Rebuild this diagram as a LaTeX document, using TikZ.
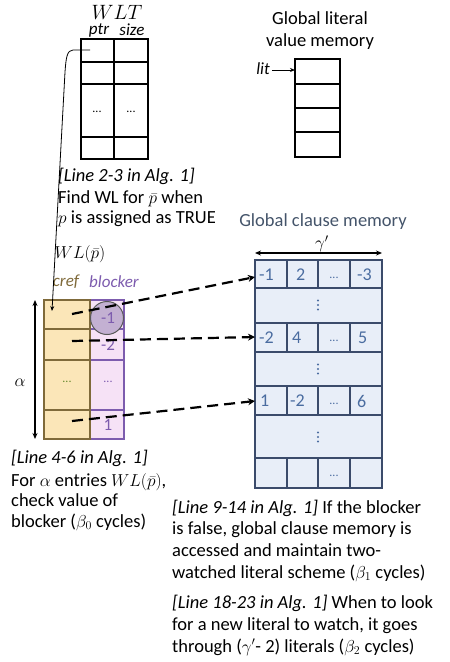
\documentclass[tikz,border=0pt]{standalone}
\usepackage{fontspec}
\setmainfont{Carlito}
\usetikzlibrary{arrows.meta}
\definecolor{crefc}{HTML}{7F6A3A}
\definecolor{creff}{HTML}{FBE6B8}
\definecolor{blkc}{HTML}{7D5CAE}
\definecolor{blkf}{HTML}{F6E2F6}
\definecolor{circf}{HTML}{C3B0D2}
\definecolor{gcmline}{HTML}{3B4B6B}
\definecolor{gcmfill}{HTML}{E8EEF8}
\definecolor{gcmtext}{HTML}{4A6CA0}
\definecolor{gcmlabel}{HTML}{44546A}
\begin{document}
\begin{tikzpicture}[x=1pt,y=-1pt,
  txt/.style={font=\fontsize{18.5}{21}\selectfont, inner sep=0pt, anchor=base west},
  lbl/.style={font=\fontsize{18.5}{21}\selectfont, inner sep=0pt},
  sml/.style={font=\fontsize{17}{20}\selectfont\itshape, inner sep=0pt},
  blk/.style={line width=2pt, draw=black},
  dasharrow/.style={line width=2.2pt, dash pattern=on 11pt off 6pt, -{Stealth[length=7pt,width=7pt]}},
  cellt/.style={font=\fontsize{18}{20}\selectfont, text=gcmtext, inner sep=0pt, anchor=west},
  ell/.style={font=\fontsize{12}{14}\selectfont, inner sep=0pt},
  vdot/.style={fill=gcmtext, circle, inner sep=0pt, minimum size=2.2pt}
]
\useasboundingbox (0,0) rectangle (450,662);

% ---------- WLT ----------
\node[lbl, font=\fontsize{20}{22}\selectfont] (wlt) at (117,12) {$WLT$};
\node[sml] (ptr) at (99,30) {ptr};
\node[sml] (size) at (132,30) {size};
\draw[blk] (81,39) rectangle (148,159);
\foreach \y in {62,84,137} \draw[blk] (81,\y) -- (148,\y);
\draw[blk] (114,39) -- (114,159);
\node[ell] (d1) at (97,112) {...};
\node[ell] (d2) at (131,112) {...};
\coordinate (ptrcell) at (90,50);

\node[txt] (t1a) at (58,181) {\itshape [Line 2-3 in Alg. 1]};
\node[txt] (t1b) at (58,203) {Find WL for $\bar{p}$ when};
\node[txt] (t1c) at (58,223) {$p$ is assigned as TRUE};

% ---------- Global literal value memory ----------
\node[lbl] (glv1) at (320,18) {Global literal};
\node[lbl] (glv2) at (320,42) {value memory};
\draw[blk] (295,59) rectangle (340,157);
\foreach \y in {84,108,132} \draw[blk] (295,\y) -- (340,\y);
\coordinate (litcell) at (295,70);
\node[sml] (lit) at (263,69) {lit};
\draw[line width=1pt, -{Stealth[length=5pt,width=4pt]}] (lit.east) ++(2,1) -- (litcell);

% ---------- WL(p) ----------
\node[lbl, font=\fontsize{19}{22}\selectfont] (wlp) at (80,254) {$WL(\bar{p})$};
\node[sml, text=crefc] (cref) at (66,282) {cref};
\node[sml, text=blkc] (blocker) at (114,282) {blocker};
\fill[creff] (44,300) rectangle (90,439);
\fill[blkf] (90,300) rectangle (124,439);
\foreach \a/\b in {300/329,329/360,360/410,410/439}{
  \draw[line width=2.2pt, draw=blkc] (90,\a) rectangle (124,\b);
}
\foreach \a/\b in {300/329,329/360,360/410,410/439}{
  \draw[line width=2.2pt, draw=crefc] (44,\a) rectangle (90,\b);
}
\node[draw=black!65, line width=1pt, fill=circf, circle, minimum size=33pt, inner sep=0pt] (circ) at (107,318) {};
\node[lbl, text=blkc, font=\fontsize{17}{20}\selectfont] (b1) at (108,318) {-1};
\node[lbl, text=blkc, font=\fontsize{17}{20}\selectfont] (b2) at (108,345) {-2};
\node[ell, text=blkc] (b3) at (108,382) {...};
\node[lbl, text=blkc, font=\fontsize{17}{20}\selectfont] (b4) at (108,425) {1};
\node[ell, text=crefc!80!green] (c3) at (67,382) {...};
\coordinate (e1) at (72,314);
\coordinate (e2) at (72,341);
\coordinate (e3) at (72,421);
\coordinate (crefcell) at (52,311);

% alpha
\coordinate (at) at (35,300);
\coordinate (ab) at (35,439);
\draw[line width=1.1pt, {Stealth[length=6pt,width=5pt]}-{Stealth[length=6pt,width=5pt]}] (at) -- (ab);
\node[lbl] (alpha) at (20,383) {$\alpha$};

\node[txt] (t2a) at (11,463) {\itshape [Line 4-6 in Alg. 1]};
\node[txt] (t2b) at (11,486) {For $\alpha$ entries $WL(\bar{p})$,};
\node[txt] (t2c) at (11,506) {check value of};
\node[txt] (t2d) at (11,527) {blocker ($\beta_0$ cycles)};

% curved pointer
\draw[line width=0.8pt, -{Stealth[length=5pt,width=4pt]}] (ptrcell) -- (73,50) .. controls (67,50) and (66,58) .. (65,72) -- (crefcell);

% ---------- Global clause memory ----------
\node[lbl, text=gcmlabel] (gcm) at (323,222) {Global clause memory};
\coordinate (gl) at (255,253);
\coordinate (gr) at (382,253);
\draw[line width=1.1pt, {Stealth[length=6pt,width=5pt]}-{Stealth[length=6pt,width=5pt]}] (gl) -- (gr);
\node[lbl] (gamma) at (322,244) {$\gamma'$};

\fill[gcmfill] (255,260) rectangle (382,488);
\draw[line width=2.2pt, draw=gcmline] (255,260) rectangle (382,488);
\foreach \y in {288,323,352,386,415,458} \draw[line width=2.2pt, draw=gcmline] (255,\y) -- (382,\y);
\foreach \a/\b in {260/288,323/352,386/415,458/488}{
  \foreach \x in {287,318,350} \draw[line width=2.2pt, draw=gcmline] (\x,\a) -- (\x,\b);
}
\node[cellt] (r1a) at (259,275) {-1};
\node[cellt] (r1b) at (296,275) {2};
\node[ell, text=gcmtext] (r1c) at (334,278) {...};
\node[cellt] (r1d) at (357,275) {-3};
\node[cellt] (r3a) at (259,338) {-2};
\node[cellt] (r3b) at (292,338) {4};
\node[ell, text=gcmtext] (r3c) at (334,341) {...};
\node[cellt] (r3d) at (358,338) {5};
\node[cellt] (r5a) at (260,401) {1};
\node[cellt] (r5b) at (290,401) {-2};
\node[ell, text=gcmtext] (r5c) at (334,404) {...};
\node[cellt] (r5d) at (357,401) {6};
\node[ell, text=gcmtext] (r7c) at (334,476) {...};
\foreach \yc in {305,369,437}{
  \foreach \d in {-4.5,0,4.5} \node[vdot] at (318,\yc+\d) {};
}
\coordinate (g1) at (255,277);
\coordinate (g2) at (255,337);
\coordinate (g3) at (255,401);

\draw[dasharrow] (e1) -- (g1);
\draw[dasharrow] (e2) -- (g2);
\draw[dasharrow] (e3) -- (g3);

\node[txt] (t3a) at (172,513) {\itshape [Line 9-14 in Alg. 1]\upshape{} If the blocker};
\node[txt] (t3b) at (172,534) {is false, global clause memory is};
\node[txt] (t3c) at (172,556) {accessed and maintain two-};
\node[txt] (t3d) at (172,578) {watched literal scheme ($\beta_1$ cycles)};
\node[txt] (t4a) at (172,608) {\itshape [Line 18-23 in Alg. 1]\upshape{} When to look};
\node[txt] (t4b) at (172,630) {for a new literal to watch, it goes};
\node[txt] (t4c) at (172,652) {through ($\gamma'$- 2) literals ($\beta_2$ cycles)};
\end{tikzpicture}
\end{document}
